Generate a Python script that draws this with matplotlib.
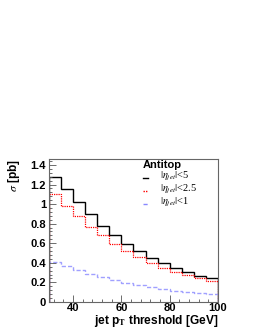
import numpy as np
import matplotlib
matplotlib.use("Agg")
import matplotlib.pyplot as plt
from matplotlib.ticker import MultipleLocator

plt.rcParams['font.family'] = ['Liberation Sans', 'DejaVu Sans']
plt.rcParams['mathtext.fontset'] = 'stix'

# jet pT threshold bin edges [GeV]
edges = np.arange(30, 105, 5)

# cross sections [pb]
eta5 = [1.28, 1.15, 1.02, 0.90, 0.78, 0.68, 0.59, 0.52, 0.45, 0.40, 0.35, 0.31, 0.27, 0.24]
eta25 = [1.10, 0.98, 0.88, 0.77, 0.68, 0.59, 0.52, 0.46, 0.40, 0.35, 0.31, 0.28, 0.24, 0.21]
eta1 = [0.41, 0.37, 0.33, 0.29, 0.25, 0.22, 0.19, 0.17, 0.15, 0.13, 0.11, 0.10, 0.09, 0.08]

labels = [r'$|\eta_{jet}|$<5', r'$|\eta_{jet}|$<2.5', r'$|\eta_{jet}|$<1']
colors = ['black', 'red', '#8888ff']
styles = ['-', (0, (1, 0.8)), (0, (3, 1.5))]

fig = plt.figure(figsize=(2.55, 3.30), dpi=100)
ax = fig.add_axes([0.192, 0.085, 0.663, 0.433])

ax.stairs(eta5, edges, color=colors[0], lw=1.0, ls=styles[0])
ax.stairs(eta25, edges, color=colors[1], lw=0.9, ls=styles[1])
ax.stairs(eta1, edges, color=colors[2], lw=1.0, ls=styles[2], alpha=0.8)

ax.set_xlim(30, 100)
ax.set_ylim(0, 1.46)
ax.xaxis.set_major_locator(MultipleLocator(20))
ax.xaxis.set_minor_locator(MultipleLocator(4))
ax.yaxis.set_major_locator(MultipleLocator(0.2))
ax.yaxis.set_minor_locator(MultipleLocator(0.04))
ax.yaxis.set_major_formatter(plt.FuncFormatter(lambda v, p: '%g' % round(v, 2)))
ax.tick_params(which='both', direction='in', labelsize=8, pad=2, width=0.6, color='#555555')
ax.tick_params(axis='x', pad=0.5)
ax.tick_params(which='major', length=5)
ax.tick_params(which='minor', length=2.5)
for lab in ax.get_xticklabels() + ax.get_yticklabels():
    lab.set_fontweight('bold')
for s in ax.spines.values():
    s.set_color('#666666')
    s.set_linewidth(0.8)

ax.set_xlabel(r'jet p$_{\mathrm{\mathbf{T}}}$ threshold [GeV]', fontsize=8.6, fontweight='bold', loc='right', labelpad=0)
ax.set_ylabel(r'$\sigma$ [pb]', fontsize=8.6, fontweight='bold', loc='top', labelpad=6)

# legend drawn by hand (ROOT style, tight rows)
ax.text(0.554, 0.958, 'Antitop', transform=ax.transAxes, fontsize=8, fontweight='bold', va='center', ha='left')
rows_y = [0.865, 0.776, 0.685]
for i in range(3):
    ax.plot([0.558, 0.588], [rows_y[i], rows_y[i]], transform=ax.transAxes, color=colors[i],
            lw=1.0, ls=styles[i], clip_on=False)
    ax.text(0.655, rows_y[i] + 0.01, labels[i], transform=ax.transAxes, fontsize=7.5,
            family=['Liberation Serif', 'DejaVu Serif'], va='center', ha='left')

fig.savefig('out.png', dpi=100)
